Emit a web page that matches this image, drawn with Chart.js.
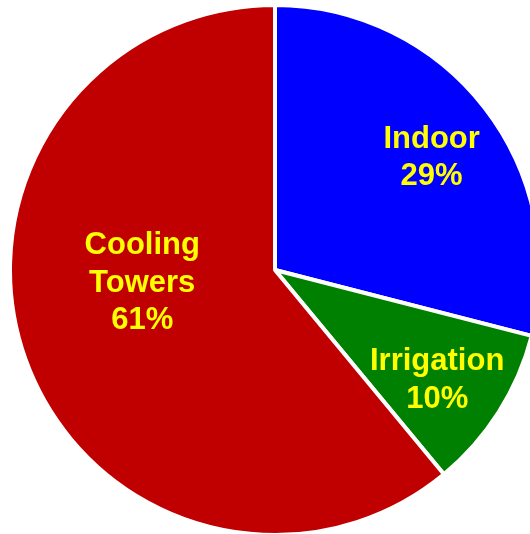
<!DOCTYPE html>
<html>
<head>
<meta charset="utf-8">
<script src="https://cdn.jsdelivr.net/npm/chart.js@4/dist/chart.umd.min.js"></script>
<style>
  html, body { margin: 0; padding: 0; background: #ffffff; width: 530px; height: 534px; overflow: hidden; }
  #wrap { position: absolute; left: 8px; top: 3px; width: 534px; height: 534px; }
</style>
</head>
<body>
<div id="wrap"><canvas id="c" width="534" height="534"></canvas></div>
<script>
const categories = ['Indoor', 'Irrigation', 'Cooling Towers'];
const shares = [29, 10, 61];
const sliceColors = ['#0000FF', '#008000', '#C00000'];

const labelPlugin = {
  id: 'sliceLabels',
  afterDatasetsDraw(chart, args, opts) {
    const ctx = chart.ctx;
    const meta = chart.getDatasetMeta(0);
    ctx.save();
    ctx.font = opts.font;
    ctx.fillStyle = opts.color;
    ctx.textAlign = 'center';
    ctx.textBaseline = 'alphabetic';
    meta.data.forEach((arc, i) => {
      const r = arc.outerRadius;
      const off = opts.offsets[i];
      const cx = arc.x + off[0] * r;
      const cy = arc.y + off[1] * r;
      const lines = categories[i].split(' ').concat([shares[i] + '%']);
      const lh = opts.lineHeight;
      const first = cy - (lines.length - 1) * lh / 2 + opts.capHeight / 2;
      lines.forEach((t, k) => ctx.fillText(t, cx, first + k * lh));
    });
    ctx.restore();
  }
};

new Chart(document.getElementById('c'), {
  type: 'pie',
  data: {
    labels: categories,
    datasets: [{
      data: shares,
      backgroundColor: sliceColors,
      borderColor: '#ffffff',
      borderWidth: 4,
      hoverOffset: 0
    }]
  },
  options: {
    responsive: false,
    animation: false,
    devicePixelRatio: 1,
    layout: { padding: 0 },
    plugins: {
      legend: { display: false },
      tooltip: { enabled: false },
      sliceLabels: {
        font: 'bold 31px "Liberation Sans", Arial, sans-serif',
        color: '#FFFF00',
        lineHeight: 37.5,
        capHeight: 21.5,
        offsets: [[0.591, -0.432], [0.612, 0.409], [-0.501, 0.041]]
      }
    }
  },
  plugins: [labelPlugin]
});
</script>
</body>
</html>
